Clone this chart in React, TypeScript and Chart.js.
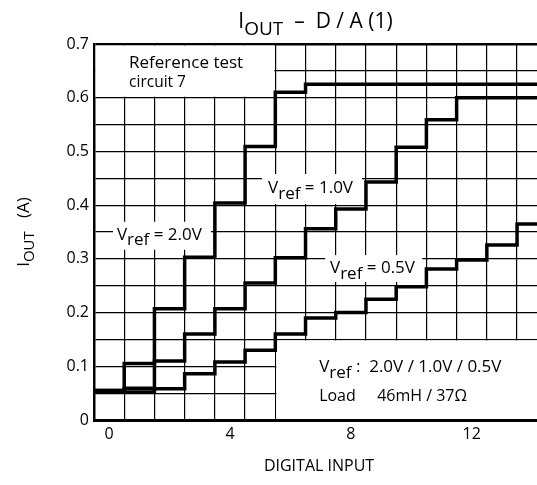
import React, { useEffect, useRef } from 'react';
import { Chart, registerables } from 'chart.js';
Chart.register(...registerables);

const digitalInput = [0, 1, 2, 3, 4, 5, 6, 7, 8, 9, 10, 11, 12, 13, 14];
const ioutVref20 = [0.055, 0.105, 0.207, 0.303, 0.404, 0.509, 0.61, 0.625, 0.625, 0.625, 0.625, 0.625, 0.625, 0.625, 0.625];
const ioutVref10 = [0.055, 0.059, 0.11, 0.16, 0.207, 0.255, 0.302, 0.356, 0.393, 0.443, 0.508, 0.559, 0.6, 0.6, 0.6];
const ioutVref05 = [0.052, 0.052, 0.058, 0.086, 0.108, 0.13, 0.16, 0.19, 0.2, 0.225, 0.248, 0.281, 0.298, 0.326, 0.365];
const xTickLabels = [0, 4, 8, 12];
const xGridLines = [0.5, 1.5, 2.5, 3.5, 4.5, 5.5, 6.5, 7.5, 8.5, 9.5, 10.5, 11.5, 12.5, 13.5];
const yTickLabels = [0, 0.1, 0.2, 0.3, 0.4, 0.5, 0.6, 0.7];
const yGridLines = [0.05, 0.15, 0.25, 0.35, 0.45, 0.55, 0.65];

const X_MIN = -0.5;
const X_MAX = 14.16;
const Y_MIN = 0;
const Y_MAX = 0.7;
const FONT = '"Open Sans", "Noto Sans", sans-serif';

type Part = { t: string; sub?: boolean };

function stepData(vals: number[]) {
  const pts = digitalInput.map((n, i) => ({ x: n - 0.5, y: vals[i] }));
  pts.push({ x: X_MAX, y: vals[vals.length - 1] });
  return pts;
}

function drawRich(ctx: CanvasRenderingContext2D, x: number, y: number, parts: Part[], size: number, subSize: number) {
  ctx.textBaseline = 'middle';
  ctx.textAlign = 'left';
  let cx = x;
  for (const p of parts) {
    const s = p.sub ? subSize : size;
    ctx.font = `${s}px ${FONT}`;
    ctx.fillText(p.t, cx, p.sub ? y + size * 0.35 : y);
    cx += ctx.measureText(p.t).width;
  }
  return cx - x;
}

function richWidth(ctx: CanvasRenderingContext2D, parts: Part[], size: number, subSize: number) {
  let w = 0;
  for (const p of parts) {
    ctx.font = `${p.sub ? subSize : size}px ${FONT}`;
    w += ctx.measureText(p.t).width;
  }
  return w;
}

const annotationPlugin = {
  id: 'annotations',
  beforeDatasetsDraw(chart: any) {
    const { ctx } = chart;
    const xs = chart.scales.x;
    const ys = chart.scales.y;
    const px = (v: number) => xs.getPixelForValue(v);
    const py = (v: number) => ys.getPixelForValue(v);
    ctx.save();
    ctx.fillStyle = '#fff';
    // top-left box
    ctx.fillRect(px(-0.5) + 1.5, py(0.7) + 1.5, px(5.5) - px(-0.5) - 2.5, py(0.6) - py(0.7) - 2.5);
    // bottom-right box
    ctx.fillRect(px(5.5) + 1, py(0.15) + 1, chart.chartArea.right - px(5.5), py(0) - py(0.15) - 2);
    // label boxes
    const boxes = [
      [0.13, 3.37, 0.317, 0.369],
      [5.06, 8.37, 0.402, 0.458],
      [7.15, 10.36, 0.257, 0.307],
    ];
    for (const b of boxes) {
      ctx.fillRect(px(b[0]), py(b[3]), px(b[1]) - px(b[0]), py(b[2]) - py(b[3]));
    }
    ctx.restore();
  },
  afterDatasetsDraw(chart: any) {
    const { ctx } = chart;
    const xs = chart.scales.x;
    const ys = chart.scales.y;
    const px = (v: number) => xs.getPixelForValue(v);
    const py = (v: number) => ys.getPixelForValue(v);
    ctx.save();
    ctx.fillStyle = '#000';

    // in-plot texts
    ctx.font = `17px ${FONT}`;
    ctx.textBaseline = 'middle';
    ctx.fillText('Reference test', px(0.66), py(0.665));
    ctx.font = `15.5px ${FONT}`;
    ctx.fillText('circuit 7', px(0.66), py(0.629));

    drawRich(ctx, px(0.26), py(0.345), [{ t: 'V' }, { t: 'ref', sub: true }, { t: ' = 2.0V' }], 17, 17);
    drawRich(ctx, px(5.26), py(0.432), [{ t: 'V' }, { t: 'ref', sub: true }, { t: ' = 1.0V' }], 17, 17);
    drawRich(ctx, px(7.31), py(0.283), [{ t: 'V' }, { t: 'ref', sub: true }, { t: ' = 0.5V' }], 17, 17);

    drawRich(ctx, px(6.95), py(0.099), [{ t: 'V' }, { t: 'ref', sub: true }, { t: ' :  2.0V / 1.0V / 0.5V' }], 17, 17);
    ctx.font = `16px ${FONT}`;
    ctx.fillText('Load', px(6.95), py(0.043));
    ctx.fillText('46mH / 37\u03A9', px(6.95) + 58, py(0.043));

    // title
    const titleParts: Part[] = [{ t: 'I' }, { t: 'OUT', sub: true }, { t: '  \u2013  D / A (1)' }];
    const tw = richWidth(ctx, titleParts, 21, 19);
    const cxTitle = (chart.chartArea.left + chart.chartArea.right) / 2;
    drawRich(ctx, cxTitle - tw / 2, 22, titleParts, 21, 19);

    // x-axis title
    ctx.font = `16px ${FONT}`;
    ctx.textAlign = 'center';
    ctx.textBaseline = 'middle';
    ctx.fillText('DIGITAL INPUT', 319, 466);

    // y-axis title
    const yParts: Part[] = [{ t: 'I' }, { t: 'OUT', sub: true }, { t: '   (A)' }];
    ctx.translate(24, (chart.chartArea.top + chart.chartArea.bottom) / 2);
    ctx.rotate(-Math.PI / 2);
    const yw = richWidth(ctx, yParts, 17, 15);
    drawRich(ctx, -yw / 2, 0, yParts, 17, 15);
    ctx.restore();
  },
};

export default function App() {
  const ref = useRef<HTMLCanvasElement | null>(null);
  useEffect(() => {
    if (!ref.current) return;
    const lineStyle = {
      borderColor: '#000',
      borderWidth: 3.5,
      pointRadius: 0,
      stepped: true,
      fill: false,
      borderJoinStyle: 'miter' as const,
      borderCapStyle: 'butt' as const,
    };
    const chart = new Chart(ref.current, {
      type: 'line',
      data: {
        datasets: [
          { label: 'Vref = 2.0V', data: stepData(ioutVref20), ...lineStyle },
          { label: 'Vref = 1.0V', data: stepData(ioutVref10), ...lineStyle },
          { label: 'Vref = 0.5V', data: stepData(ioutVref05), ...lineStyle },
        ],
      },
      options: {
        animation: false,
        responsive: false,
        devicePixelRatio: 1,
        layout: { padding: { top: 44, left: 0, right: 0, bottom: 0 } },
        plugins: { legend: { display: false }, tooltip: { enabled: false }, title: { display: false } },
        scales: {
          x: {
            type: 'linear',
            min: X_MIN,
            max: X_MAX,
            afterBuildTicks: (s: any) => {
              s.ticks = [...xTickLabels, ...xGridLines].sort((a, b) => a - b).map((v) => ({ value: v }));
            },
            afterFit: (s: any) => {
              s.height = 65;
            },
            ticks: {
              autoSkip: false,
              maxRotation: 0,
              padding: 5,
              color: '#000',
              font: { family: FONT, size: 16 },
              callback: (v: any) => (xTickLabels.includes(Number(v)) ? String(v) : ''),
            },
            grid: {
              drawTicks: false,
              color: (c: any) => (c.tick && xTickLabels.includes(c.tick.value) ? 'rgba(0,0,0,0)' : '#000'),
              lineWidth: 1.2,
            },
            border: { display: true, color: '#000', width: 3 },
          },
          y: {
            type: 'linear',
            min: Y_MIN,
            max: Y_MAX,
            afterBuildTicks: (s: any) => {
              s.ticks = [...yTickLabels, ...yGridLines].sort((a, b) => a - b).map((v) => ({ value: v }));
            },
            afterFit: (s: any) => {
              s.width = 94;
            },
            ticks: {
              autoSkip: false,
              padding: 5,
              color: '#000',
              font: { family: FONT, size: 16 },
              callback: (v: any) => {
                const n = Number(v);
                if (!yTickLabels.some((t) => Math.abs(t - n) < 1e-9)) return '';
                return n === 0 ? '0' : n.toFixed(1);
              },
            },
            grid: {
              drawTicks: false,
              color: '#000',
              lineWidth: (c: any) => (c.tick && Math.abs(c.tick.value - Y_MAX) < 1e-9 ? 2.5 : 1.2),
            },
            border: { display: true, color: '#000', width: 2.5 },
          },
        },
      },
      plugins: [annotationPlugin],
    });
    return () => chart.destroy();
  }, []);
  return (
    <div style={{ position: 'fixed', left: 0, top: 0, width: 537, height: 485, background: '#fff' }}>
      <canvas ref={ref} width={537} height={485} />
    </div>
  );
}
